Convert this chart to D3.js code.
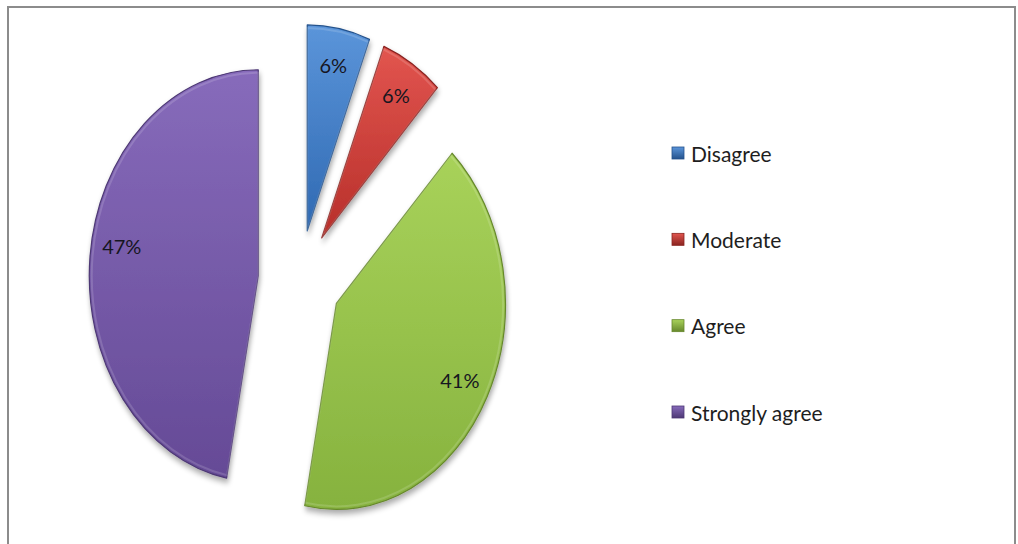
<!DOCTYPE html>
<html>
<head>
<meta charset="utf-8">
<script src="https://cdn.jsdelivr.net/npm/d3@7/dist/d3.min.js"></script>
<style>
  html, body { margin: 0; padding: 0; background: #fff; }
  svg { display: block; }
  text { font-family: Lato, "Open Sans", "DejaVu Sans", sans-serif; }
</style>
</head>
<body>
<svg id="chart" width="1018" height="544"></svg>
<script>
// Survey responses (percent of respondents)
const categories = ["Disagree", "Moderate", "Agree", "Strongly agree"];
const values = [6, 6, 41, 47];
const valueLabels = ["6%", "6%", "41%", "47%"];

// Slice palette: [top, bottom, edge]
const palette = [
  ["#5b95da", "#2f69b2", "#24528c"],
  ["#e2554f", "#b72f2a", "#8a2420"],
  ["#a8d25a", "#86b23e", "#66882c"],
  ["#876bbb", "#654a96", "#4d3874"]
];

const svg = d3.select("#chart");
const W = 1018, H = 544;

// Chart frame
svg.append("path")
  .attr("d", `M8,${H + 2} L8,7 L1015,7 L1015,${H + 2}`)
  .attr("fill", "none")
  .attr("stroke", "#8c8c8c")
  .attr("stroke-width", 2);

const defs = svg.append("defs");

palette.forEach((c, i) => {
  const g = defs.append("linearGradient")
    .attr("id", "slice" + i)
    .attr("x1", 0).attr("y1", 0).attr("x2", 0).attr("y2", 1);
  g.append("stop").attr("offset", "0%").attr("stop-color", c[0]);
  g.append("stop").attr("offset", "100%").attr("stop-color", c[1]);

  const m = defs.append("linearGradient")
    .attr("id", "mark" + i)
    .attr("x1", 0).attr("y1", 0).attr("x2", 0).attr("y2", 1);
  m.append("stop").attr("offset", "0%").attr("stop-color", c[0]);
  m.append("stop").attr("offset", "100%").attr("stop-color", c[2]);
});

// Soft drop shadow under the slices
const shadow = defs.append("filter")
  .attr("id", "shadow")
  .attr("x", "-20%").attr("y", "-20%")
  .attr("width", "140%").attr("height", "140%");
shadow.append("feGaussianBlur").attr("in", "SourceAlpha").attr("stdDeviation", 3).attr("result", "b");
shadow.append("feOffset").attr("in", "b").attr("dx", 1).attr("dy", 4).attr("result", "o");
shadow.append("feComponentTransfer").attr("in", "o").attr("result", "s")
  .append("feFuncA").attr("type", "linear").attr("slope", 0.35);
const merge = shadow.append("feMerge");
merge.append("feMergeNode").attr("in", "s");
merge.append("feMergeNode").attr("in", "SourceGraphic");

// Elliptical pie geometry
const cx = 299.5, cy = 280.5;
const rx = 169, ry = 206;
const explode = 0.245;      // fraction of radius each slice is pulled out
const labelPos = 0.82;      // label distance from slice apex, fraction of radius
const labelTurn = [0, 0, 0, 0.08]; // small angular nudge (radians) for label placement

const pie = d3.pie().sort(null).value(d => d)
  .startAngle(0).endAngle(2 * Math.PI);
const arcs = pie(values);
const arc = d3.arc().innerRadius(0).outerRadius(ry);
const mid = d => (d.startAngle + d.endAngle) / 2;

const pieG = svg.append("g")
  .attr("transform", `translate(${cx},${cy}) scale(${rx / ry},1)`);

const shift = d => `translate(${explode * ry * Math.sin(mid(d))},${-explode * ry * Math.cos(mid(d))})`;

pieG.selectAll("path.slice")
  .data(arcs)
  .join("path")
  .attr("class", "slice")
  .attr("transform", shift)
  .attr("d", arc)
  .attr("fill", (d, i) => `url(#slice${i})`)
  .attr("stroke", (d, i) => palette[i][2])
  .attr("stroke-width", 1.2)
  .attr("stroke-linejoin", "round")
  .attr("vector-effect", "non-scaling-stroke")
  .attr("filter", "url(#shadow)");

// Inner highlight along slice edges
pieG.selectAll("path.hl")
  .data(arcs)
  .join("path")
  .attr("class", "hl")
  .attr("transform", shift)
  .attr("d", d3.arc().innerRadius(0).outerRadius(ry - 3))
  .attr("fill", "none")
  .attr("stroke", "#ffffff")
  .attr("stroke-opacity", 0.15)
  .attr("stroke-width", 2)
  .attr("vector-effect", "non-scaling-stroke");

// Value labels
svg.selectAll("text.val")
  .data(arcs)
  .join("text")
  .attr("class", "val")
  .attr("x", (d, i) => {
    const m = mid(d);
    const ml = m + labelTurn[i];
    return cx + explode * rx * Math.sin(m) + labelPos * rx * Math.sin(ml);
  })
  .attr("y", (d, i) => {
    const m = mid(d);
    const ml = m + labelTurn[i];
    return cy - explode * ry * Math.cos(m) - labelPos * ry * Math.cos(ml);
  })
  .attr("text-anchor", "middle")
  .attr("dominant-baseline", "central")
  .attr("font-size", 20)
  .attr("fill", "#16161f")
  .text((d, i) => valueLabels[i]);

// Legend
const legendY = d3.scalePoint().domain(categories).range([153, 412]);
const legend = svg.append("g");
const item = legend.selectAll("g")
  .data(categories)
  .join("g")
  .attr("transform", d => `translate(672,${legendY(d)})`);

item.append("rect")
  .attr("x", 0).attr("y", -6)
  .attr("width", 12).attr("height", 12)
  .attr("fill", (d, i) => `url(#mark${i})`)
  .attr("stroke", (d, i) => palette[i][2])
  .attr("stroke-width", 0.8);

item.append("text")
  .attr("x", 19)
  .attr("y", 0)
  .attr("dominant-baseline", "central")
  .attr("font-size", 21)
  .attr("fill", "#1e1e1e")
  .text(d => d);
</script>
</body>
</html>
